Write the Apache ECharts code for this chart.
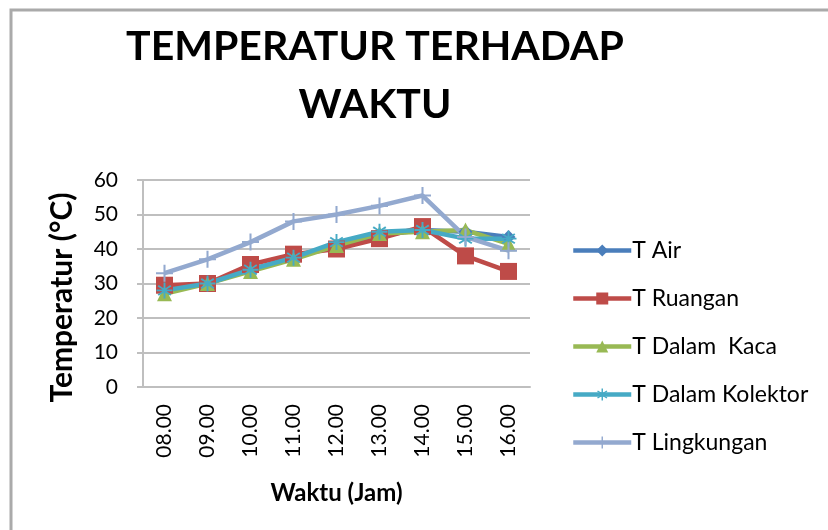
<!DOCTYPE html>
<html>
<head>
<meta charset="utf-8">
<script src="https://cdn.jsdelivr.net/npm/echarts@6/dist/echarts.min.js"></script>
<style>
html,body{margin:0;padding:0;background:#fff;}
#main{width:828px;height:530px;}
</style>
</head>
<body>
<div id="main"></div>
<script>
// data
var jam = ['08.00','09.00','10.00','11.00','12.00','13.00','14.00','15.00','16.00'];
var tAir = [28, 30, 34, 37.5, 41, 44, 45.5, 45, 43.5];
var tRuangan = [29.5, 30, 35.5, 38.5, 40, 43, 46.5, 38, 33.5];
var tKaca = [27, 30, 33.5, 37, 41, 44.5, 45, 45.5, 41.5];
var tKolektor = [28, 30, 34, 37.5, 42, 45, 45.5, 43, 43];
var tLingkungan = [33, 37, 42, 48, 50, 52.5, 55.5, 43.5, 39.5];
var yTicks = [0, 10, 20, 30, 40, 50, 60];

var font = 'Lato';
var plusPath = 'path://M4.4,0L5.6,0L5.6,4.4L10,4.4L10,5.6L5.6,5.6L5.6,10L4.4,10L4.4,5.6L0,5.6L0,4.4L4.4,4.4Z';
var starPath = 'path://M4.4,0L5.6,0L5.6,3.6L8.6,1.6L9.3,2.6L6.2,4.4L10,4.4L10,5.6L6.2,5.6L9.3,7.4L8.6,8.4L5.6,6.4L5.6,10L4.4,10L4.4,6.4L1.4,8.4L0.7,7.4L3.8,5.6L0,5.6L0,4.4L3.8,4.4L0.7,2.6L1.4,1.6L4.4,3.6Z';

var myChart = echarts.init(document.getElementById('main'));

function mkSeries(name, data, color, symbol, size){
	return {
		name: name,
		type: 'line',
		data: data,
		symbol: symbol,
		symbolSize: size,
		showAllSymbol: true,
		lineStyle: {width: 4.5, color: color},
		itemStyle: {color: color},
		emphasis: {disabled: true}
	};
}

var option = {
	animation: false,
	textStyle: {fontFamily: font},
	graphic: [{
		type: 'rect',
		shape: {x: 11, y: 10, width: 830, height: 540},
		style: {fill: 'none', stroke: '#aaaaaa', lineWidth: 3},
		silent: true
	}],
	title: {
		text: 'TEMPERATUR TERHADAP\nWAKTU',
		left: 370,
		top: 13,
		textAlign: 'center',
		textStyle: {
			fontFamily: font,
			fontWeight: 'bold',
			fontSize: 41,
			lineHeight: 58,
			color: '#000'
		}
	},
	legend: {
		orient: 'vertical',
		left: 566,
		top: 234,
		itemGap: 25,
		itemWidth: 58,
		itemHeight: 15,
		lineStyle: {width: 4.5},
		textStyle: {fontFamily: font, fontSize: 23, color: '#000', padding: [0, 0, 0, -4]},
		data: ['T Air', 'T Ruangan', 'T Dalam  Kaca', 'T Dalam Kolektor', 'T Lingkungan']
	},
	grid: {
		left: 143,
		right: 298,
		top: 180,
		bottom: 143
	},
	xAxis: {
		type: 'category',
		data: jam,
		boundaryGap: true,
		axisLine: {show: true, lineStyle: {color: '#bfbfbf', width: 2}},
		axisTick: {show: false},
		axisLabel: {rotate: 90, fontSize: 21, color: '#000', margin: 17, fontFamily: font},
		name: 'Waktu (Jam)',
		nameLocation: 'middle',
		nameGap: 94,
		nameTextStyle: {fontFamily: font, fontWeight: 'bold', fontSize: 24, color: '#000'}
	},
	yAxis: {
		type: 'value',
		min: yTicks[0],
		max: yTicks[yTicks.length - 1],
		interval: 10,
		axisLine: {show: true, lineStyle: {color: '#bfbfbf', width: 2}},
		axisTick: {show: true, length: 6, lineStyle: {color: '#bfbfbf', width: 2}},
		axisLabel: {fontSize: 21, color: '#000', margin: 25, fontFamily: font},
		splitLine: {show: true, lineStyle: {color: '#bfbfbf', width: 2}},
		name: 'Temperatur (°C)',
		nameLocation: 'middle',
		nameGap: 66,
		nameTextStyle: {fontFamily: font, fontWeight: 'bold', fontSize: 30, color: '#000', padding: [0, 28, 0, 0]}
	},
	series: [
		mkSeries('T Air', tAir, '#4a7ebb', 'diamond', 14),
		mkSeries('T Ruangan', tRuangan, '#be4b48', 'rect', 17),
		mkSeries('T Dalam  Kaca', tKaca, '#98b954', 'triangle', 15),
		mkSeries('T Dalam Kolektor', tKolektor, '#46aac5', starPath, 16),
		mkSeries('T Lingkungan', tLingkungan, '#93a9cf', plusPath, 17)
	]
};

myChart.setOption(option);
</script>
</body>
</html>
